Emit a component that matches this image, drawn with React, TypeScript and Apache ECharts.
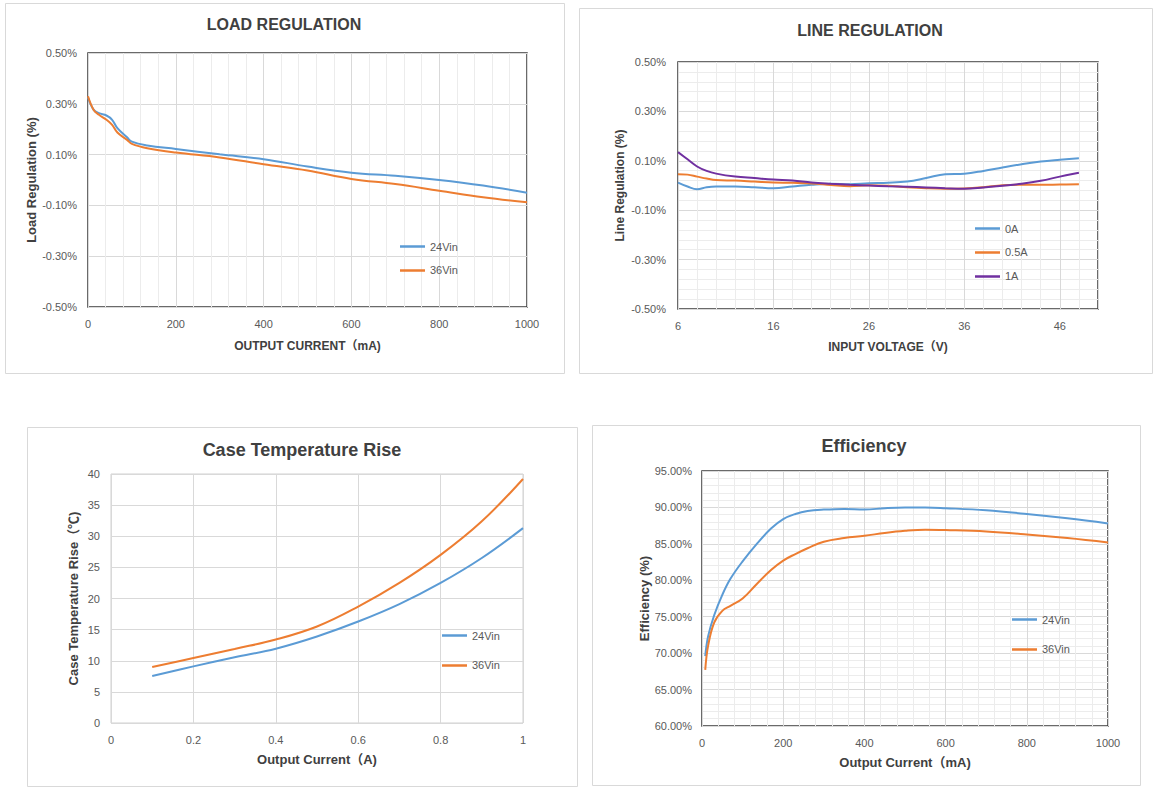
import React, { useEffect, useRef } from "react";
import * as echarts from "echarts";

// ---------- DATA ----------
const loadX = [0, 13, 25, 42, 55, 67, 89, 100, 135, 200, 300, 400, 500, 600, 700, 800, 900, 1000];
const load24 = [0.325, 0.276, 0.263, 0.254, 0.237, 0.204, 0.168, 0.151, 0.136, 0.122, 0.101, 0.082, 0.053, 0.029, 0.017, 0.0, -0.022, -0.05];
const load36 = [0.33, 0.276, 0.257, 0.237, 0.217, 0.187, 0.158, 0.142, 0.125, 0.108, 0.089, 0.062, 0.037, 0.004, -0.016, -0.042, -0.068, -0.088];

const lineX = [6, 7, 8, 9, 10, 12, 14, 16, 18, 20, 22, 24, 26, 28, 30, 32, 34, 36, 38, 40, 42, 44, 46, 48];
const line0A = [0.012, -0.004, -0.015, -0.007, -0.004, -0.004, -0.007, -0.011, -0.004, 0.003, 0.007, 0.005, 0.009, 0.011, 0.016, 0.03, 0.046, 0.048, 0.059, 0.073, 0.086, 0.097, 0.104, 0.11];
const line05A = [0.046, 0.044, 0.036, 0.028, 0.022, 0.02, 0.016, 0.012, 0.011, 0.008, 0.002, -0.003, 0.001, -0.001, -0.007, -0.011, -0.013, -0.012, -0.007, 0.001, 0.003, 0.003, 0.004, 0.005];
const line1A = [0.135, 0.106, 0.077, 0.059, 0.048, 0.036, 0.03, 0.024, 0.02, 0.012, 0.007, 0.003, 0, -0.003, -0.005, -0.008, -0.011, -0.013, -0.008, -0.001, 0.007, 0.019, 0.036, 0.052];

const tempX = [0.1, 0.2, 0.3, 0.4, 0.5, 0.6, 0.7, 0.8, 0.9, 1.0];
const temp24 = [7.55, 9.1, 10.55, 11.94, 13.9, 16.3, 19.1, 22.5, 26.5, 31.3];
const temp36 = [9.0, 10.44, 11.9, 13.4, 15.5, 18.7, 22.5, 27.0, 32.4, 39.2];

const effX = [8, 15, 30, 50, 70, 100, 135, 170, 200, 230, 260, 300, 350, 400, 450, 500, 550, 600, 700, 800, 900, 1000];
const eff24 = [69.6, 72.3, 75.2, 78.0, 80.2, 82.6, 85.0, 87.1, 88.4, 89.1, 89.5, 89.7, 89.8, 89.7, 89.9, 90.0, 90.0, 89.9, 89.6, 89.1, 88.5, 87.8];
const eff36 = [67.7, 71, 74.2, 75.8, 76.5, 77.5, 79.5, 81.4, 82.7, 83.6, 84.4, 85.3, 85.8, 86.1, 86.5, 86.8, 86.95, 86.9, 86.7, 86.3, 85.8, 85.2];

const titles = ["LOAD REGULATION", "LINE REGULATION", "Case Temperature Rise", "Efficiency"];

const BLUE = "#5B9BD5";
const ORANGE = "#ED7D31";
const PURPLE = "#7030A0";
const FONT = "'Liberation Sans', Arial, 'Noto Sans CJK SC', sans-serif";
const LABEL = "#595959";
const NAME = "#404040";
const MAJOR = "#d9d9d9";
const MINOR = "#ececec";

const pairs = (xs: number[], ys: number[]) => xs.map((x, i) => [x, ys[i]]);

function lineSeries(name: string, color: string, idx: number, data: number[][]) {
  return {
    type: "line",
    name,
    xAxisIndex: idx,
    yAxisIndex: idx,
    data,
    smooth: 0.4,
    symbol: "none",
    showSymbol: false,
    lineStyle: { color, width: 2 },
    itemStyle: { color },
    z: 3,
  };
}

const pct2 = (v: number) => v.toFixed(2) + "%";
const plain = (v: number) => String(v);

export default function App() {
  const ref = useRef<HTMLDivElement>(null);
  useEffect(() => {
    if (!ref.current) return;
    const chart = echarts.init(ref.current, undefined, { renderer: "svg" });

    const grids = [
      { left: 88, top: 53, width: 439, height: 254, show: true, borderColor: "#3a3a3a", borderWidth: 1.5, backgroundColor: "transparent" },
      { left: 678, top: 62, width: 420, height: 247, show: true, borderColor: "#3a3a3a", borderWidth: 1.5, backgroundColor: "transparent" },
      { left: 111, top: 474, width: 412, height: 249, show: true, borderColor: "#d0d0d0", borderWidth: 1, backgroundColor: "transparent" },
      { left: 702, top: 471, width: 406, height: 255, show: true, borderColor: "#3a3a3a", borderWidth: 1.5, backgroundColor: "transparent" },
    ];

    const axisLabel = (extra: any = {}) => ({ color: LABEL, fontSize: 11, fontFamily: FONT, ...extra });
    const nameStyle = (size: number) => ({ color: NAME, fontSize: size, fontWeight: "bold", fontFamily: FONT });

    const xAxes = [
      {
        gridIndex: 0, type: "value", min: 0, max: 1000, interval: 200,
        name: "OUTPUT CURRENT（mA)", nameLocation: "middle", nameGap: 33, nameTextStyle: nameStyle(12),
        axisLine: { show: false }, axisTick: { show: false },
        axisLabel: axisLabel({ margin: 11, formatter: plain }),
        splitLine: { show: true, lineStyle: { color: MAJOR, width: 1 } },
        minorTick: { show: false, splitNumber: 5 },
        minorSplitLine: { show: true, lineStyle: { color: MINOR, width: 1 } },
      },
      {
        gridIndex: 1, type: "value", min: 6, max: 50, interval: 10,
        name: "INPUT VOLTAGE（V)", nameLocation: "middle", nameGap: 32, nameTextStyle: nameStyle(12),
        axisLine: { show: false }, axisTick: { show: false },
        axisLabel: axisLabel({ margin: 11, showMaxLabel: false, formatter: plain }),
        splitLine: { show: true, lineStyle: { color: MAJOR, width: 1 } },
        minorTick: { show: false, splitNumber: 5 },
        minorSplitLine: { show: true, lineStyle: { color: MINOR, width: 1 } },
      },
      {
        gridIndex: 2, type: "value", min: 0, max: 1, interval: 0.2,
        name: "Output Current（A)", nameLocation: "middle", nameGap: 30, nameTextStyle: nameStyle(13),
        axisLine: { show: false }, axisTick: { show: false },
        axisLabel: axisLabel({ margin: 11, formatter: (v: number) => String(Math.round(v * 10) / 10) }),
        splitLine: { show: true, lineStyle: { color: MAJOR, width: 1 } },
      },
      {
        gridIndex: 3, type: "value", min: 0, max: 1000, interval: 200,
        name: "Output Current（mA)", nameLocation: "middle", nameGap: 30, nameTextStyle: nameStyle(13),
        axisLine: { show: false }, axisTick: { show: false },
        axisLabel: axisLabel({ margin: 11, formatter: plain }),
        splitLine: { show: true, lineStyle: { color: MAJOR, width: 1 } },
        minorTick: { show: false, splitNumber: 5 },
        minorSplitLine: { show: true, lineStyle: { color: MINOR, width: 1 } },
      },
    ];

    const yAxes = [
      {
        gridIndex: 0, type: "value", min: -0.5, max: 0.5, interval: 0.2,
        name: "Load Regulation (%)", nameLocation: "middle", nameGap: 50, nameTextStyle: nameStyle(13),
        axisLine: { show: false }, axisTick: { show: false },
        axisLabel: axisLabel({ margin: 11, formatter: pct2 }),
        splitLine: { show: true, lineStyle: { color: MAJOR, width: 1 } },
      },
      {
        gridIndex: 1, type: "value", min: -0.5, max: 0.5, interval: 0.2,
        name: "Line Regulation (%)", nameLocation: "middle", nameGap: 52, nameTextStyle: nameStyle(12),
        axisLine: { show: false }, axisTick: { show: false },
        axisLabel: axisLabel({ margin: 12, formatter: pct2 }),
        splitLine: { show: true, lineStyle: { color: MAJOR, width: 1 } },
        minorTick: { show: false, splitNumber: 5 },
        minorSplitLine: { show: true, lineStyle: { color: MINOR, width: 1 } },
      },
      {
        gridIndex: 2, type: "value", min: 0, max: 40, interval: 5,
        name: "Case Temperature Rise（℃)", nameLocation: "middle", nameGap: 31, nameTextStyle: nameStyle(13),
        axisLine: { show: false }, axisTick: { show: false },
        axisLabel: axisLabel({ margin: 11 }),
        splitLine: { show: true, lineStyle: { color: MAJOR, width: 1 } },
      },
      {
        gridIndex: 3, type: "value", min: 60, max: 95, interval: 5,
        name: "Efficiency (%)", nameLocation: "middle", nameGap: 51, nameTextStyle: nameStyle(13),
        axisLine: { show: false }, axisTick: { show: false },
        axisLabel: axisLabel({ margin: 10, formatter: pct2 }),
        splitLine: { show: true, lineStyle: { color: MAJOR, width: 1 } },
        minorTick: { show: false, splitNumber: 5 },
        minorSplitLine: { show: true, lineStyle: { color: MINOR, width: 1 } },
      },
    ];

    const series = [
      lineSeries("24Vin", BLUE, 0, pairs(loadX, load24)),
      lineSeries("36Vin", ORANGE, 0, pairs(loadX, load36)),
      lineSeries("0A", BLUE, 1, pairs(lineX, line0A)),
      lineSeries("0.5A", ORANGE, 1, pairs(lineX, line05A)),
      lineSeries("1A", PURPLE, 1, pairs(lineX, line1A)),
      lineSeries("24Vin", BLUE, 2, pairs(tempX, temp24)),
      lineSeries("36Vin", ORANGE, 2, pairs(tempX, temp36)),
      lineSeries("24Vin", BLUE, 3, pairs(effX, eff24)),
      lineSeries("36Vin", ORANGE, 3, pairs(effX, eff36)),
    ];

    const legendBase = {
      orient: "vertical",
      icon: "path://M0,0 H25 V2.5 H0 Z",
      itemWidth: 25,
      itemHeight: 14,
      itemGap: 10,
      textStyle: { color: LABEL, fontSize: 11, fontFamily: FONT },
      selectedMode: false,
    };

    const legends = [
      { ...legendBase, left: 395, top: 236, itemGap: 13, data: ["24Vin", "36Vin"] },
      { ...legendBase, left: 970, top: 218, itemGap: 13, data: ["0A", "0.5A", "1A"] },
      { ...legendBase, left: 437, top: 625, itemGap: 19, data: ["24Vin", "36Vin"] },
      { ...legendBase, left: 1007, top: 609, itemGap: 19, data: ["24Vin", "36Vin"] },
    ];

    const panels = [
      [5, 3, 559, 370],
      [579, 8, 573, 365],
      [27, 427, 550, 359],
      [592, 425, 548, 360],
    ];
    const titlePos = [
      [284, 24, 16],
      [870, 30, 16],
      [302, 450, 18],
      [864, 446, 18],
    ];

    const graphic = [
      ...panels.map((p) => ({
        type: "rect",
        z: -100,
        silent: true,
        shape: { x: p[0] + 0.5, y: p[1] + 0.5, width: p[2], height: p[3] },
        style: { fill: "#ffffff", stroke: "#d9d9d9", lineWidth: 1 },
      })),
      ...titles.map((t, i) => ({
        type: "text",
        z: 10,
        x: titlePos[i][0],
        y: titlePos[i][1],
        style: {
          text: t,
          fill: NAME,
          font: `bold ${titlePos[i][2]}px ${FONT}`,
          textAlign: "center",
          textVerticalAlign: "middle",
        },
      })),
    ];

    chart.setOption({
      animation: false,
      backgroundColor: "#ffffff",
      textStyle: { fontFamily: FONT },
      grid: grids,
      xAxis: xAxes,
      yAxis: yAxes,
      legend: legends,
      series,
      graphic,
    });

    return () => chart.dispose();
  }, []);

  return (
    <div
      ref={ref}
      style={{ position: "absolute", left: 0, top: 0, width: 1154, height: 787, background: "#fff" }}
    />
  );
}
